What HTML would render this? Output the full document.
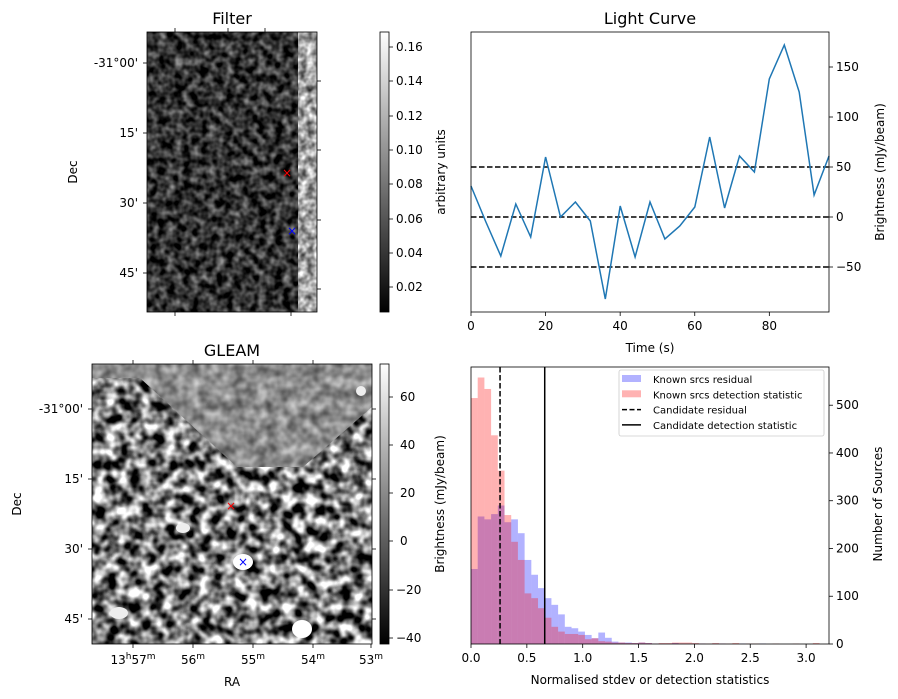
<!DOCTYPE html>
<html><head><meta charset="utf-8"><style>
html,body{margin:0;padding:0;background:#fff;}
svg{display:block;font-family:"DejaVu Sans","Liberation Sans",sans-serif;}
text{fill:#000;}
filter{color-interpolation-filters:sRGB;}
</style></head><body>
<svg id="fig" width="898" height="699" viewBox="0 0 898 699" xmlns="http://www.w3.org/2000/svg">
<defs>
<filter id="noiseF" x="0" y="0" width="100%" height="100%" color-interpolation-filters="sRGB">
<feTurbulence type="fractalNoise" baseFrequency="0.12" numOctaves="2" seed="3"/>
<feColorMatrix type="matrix" values="1 0 0 0 0  1 0 0 0 0  1 0 0 0 0  0 0 0 0 1"/>
<feComponentTransfer><feFuncR type="linear" slope="1.0" intercept="-0.3"/><feFuncG type="linear" slope="1.0" intercept="-0.3"/><feFuncB type="linear" slope="1.0" intercept="-0.3"/></feComponentTransfer>
</filter>
<filter id="noiseS" x="0" y="0" width="100%" height="100%" color-interpolation-filters="sRGB">
<feTurbulence type="fractalNoise" baseFrequency="0.14" numOctaves="2" seed="9"/>
<feColorMatrix type="matrix" values="1 0 0 0 0  1 0 0 0 0  1 0 0 0 0  0 0 0 0 1"/>
<feComponentTransfer><feFuncR type="linear" slope="1.2" intercept="0.05"/><feFuncG type="linear" slope="1.2" intercept="0.05"/><feFuncB type="linear" slope="1.2" intercept="0.05"/></feComponentTransfer>
</filter>
<filter id="noiseB" x="0" y="0" width="100%" height="100%" color-interpolation-filters="sRGB">
<feTurbulence type="fractalNoise" baseFrequency="0.085" numOctaves="2" seed="7"/>
<feColorMatrix type="matrix" values="1 0 0 0 0  1 0 0 0 0  1 0 0 0 0  0 0 0 0 1"/>
<feComponentTransfer><feFuncR type="linear" slope="2.4" intercept="-0.72"/><feFuncG type="linear" slope="2.4" intercept="-0.72"/><feFuncB type="linear" slope="2.4" intercept="-0.72"/></feComponentTransfer>
</filter>
<filter id="noiseC" x="0" y="0" width="100%" height="100%" color-interpolation-filters="sRGB">
<feTurbulence type="fractalNoise" baseFrequency="0.09" numOctaves="2" seed="11"/>
<feColorMatrix type="matrix" values="1 0 0 0 0  1 0 0 0 0  1 0 0 0 0  0 0 0 0 1"/>
<feComponentTransfer><feFuncR type="linear" slope="0.7" intercept="0.2"/><feFuncG type="linear" slope="0.7" intercept="0.2"/><feFuncB type="linear" slope="0.7" intercept="0.2"/></feComponentTransfer>
</filter>
<linearGradient id="cbar" x1="0" y1="1" x2="0" y2="0"><stop offset="0" stop-color="#000"/><stop offset="1" stop-color="#fff"/></linearGradient>
<clipPath id="gclip"><rect x="92" y="364" width="280" height="280"/></clipPath>
<clipPath id="polyclip"><polygon points="92,364 372,364 372,407 303,467 237,467 140,378 92,378"/></clipPath>
<clipPath id="fclip"><rect x="147" y="32" width="170" height="280"/></clipPath>
</defs>

<g>
<text x="232" y="24" font-size="16" text-anchor="middle">Filter</text>
<g clip-path="url(#fclip)">
<rect x="147" y="32" width="170" height="280" fill="#222" filter="url(#noiseF)"/>
<rect x="298" y="32" width="19" height="280" fill="#aaa" filter="url(#noiseS)"/>
</g>
<rect x="147" y="32" width="170" height="280" fill="none" stroke="#000" stroke-width="0.8"/>
<text x="287" y="177" font-size="12" text-anchor="middle" style="fill:red">×</text>
<text x="292" y="235" font-size="12" text-anchor="middle" style="fill:blue">×</text>
<g font-size="12" text-anchor="end">
<text x="138" y="67">-31°00'</text><text x="138" y="137">15'</text><text x="138" y="207">30'</text><text x="138" y="277">45'</text>
</g>
<g stroke="#000" stroke-width="0.8">
<line x1="143" y1="63" x2="147" y2="63"/><line x1="143" y1="133" x2="147" y2="133"/><line x1="143" y1="203" x2="147" y2="203"/><line x1="143" y1="273" x2="147" y2="273"/>
<line x1="317" y1="81" x2="321" y2="81"/><line x1="317" y1="150" x2="321" y2="150"/><line x1="317" y1="220" x2="321" y2="220"/><line x1="317" y1="289" x2="321" y2="289"/>
<line x1="175" y1="312" x2="175" y2="316"/><line x1="291" y1="312" x2="291" y2="316"/>
<line x1="175" y1="28" x2="175" y2="32"/><line x1="228" y1="28" x2="228" y2="32"/><line x1="265" y1="28" x2="265" y2="32"/>
</g>
<text transform="translate(77,172) rotate(-90)" font-size="12" text-anchor="middle">Dec</text>
<rect x="380" y="32" width="9" height="280" fill="url(#cbar)" stroke="#000" stroke-width="0.8"/>
<g font-size="12">
<text x="396" y="51">0.16</text><text x="396" y="85">0.14</text><text x="396" y="120">0.12</text><text x="396" y="154">0.10</text><text x="396" y="188">0.08</text><text x="396" y="223">0.06</text><text x="396" y="257">0.04</text><text x="396" y="291">0.02</text>
</g>
<g stroke="#000" stroke-width="0.8">
<line x1="389" y1="47" x2="393" y2="47"/><line x1="389" y1="81" x2="393" y2="81"/><line x1="389" y1="116" x2="393" y2="116"/><line x1="389" y1="150" x2="393" y2="150"/><line x1="389" y1="184" x2="393" y2="184"/><line x1="389" y1="219" x2="393" y2="219"/><line x1="389" y1="253" x2="393" y2="253"/><line x1="389" y1="287" x2="393" y2="287"/>
</g>
<text transform="translate(445,172) rotate(-90)" font-size="12" text-anchor="middle">arbitrary units</text>
</g>

<g>
<text x="232" y="356" font-size="16" text-anchor="middle">GLEAM</text>
<g clip-path="url(#gclip)">
<rect x="92" y="364" width="280" height="280" fill="#777" filter="url(#noiseB)"/>
<g clip-path="url(#polyclip)"><rect x="92" y="364" width="280" height="104" fill="#888" filter="url(#noiseC)"/></g>
<ellipse cx="302" cy="629" rx="10" ry="9" fill="#fff"/>
<ellipse cx="243" cy="562" rx="10" ry="8" fill="#fff"/>
<ellipse cx="119" cy="613" rx="9" ry="6" fill="#eee"/>
<ellipse cx="183" cy="528" rx="7" ry="5" fill="#eee"/>
<ellipse cx="361" cy="391" rx="5" ry="5" fill="#eee"/>
</g>
<rect x="92" y="364" width="280" height="280" fill="none" stroke="#000" stroke-width="0.8"/>
<text x="231" y="510" font-size="12" text-anchor="middle" style="fill:red">×</text>
<text x="243" y="566" font-size="12" text-anchor="middle" style="fill:blue">×</text>
<g font-size="12" text-anchor="end">
<text x="83" y="413">-31°00'</text><text x="83" y="483">15'</text><text x="83" y="553">30'</text><text x="83" y="623">45'</text>
</g>
<g font-size="12" text-anchor="middle">
<text x="133" y="664">13<tspan font-size="9" dy="-5">h</tspan><tspan dy="5">57</tspan><tspan font-size="9" dy="-5">m</tspan></text>
<text x="193" y="664">56<tspan font-size="9" dy="-5">m</tspan></text>
<text x="253" y="664">55<tspan font-size="9" dy="-5">m</tspan></text>
<text x="313" y="664">54<tspan font-size="9" dy="-5">m</tspan></text>
<text x="371" y="664">53<tspan font-size="9" dy="-5">m</tspan></text>
</g>
<g stroke="#000" stroke-width="0.8">
<line x1="88" y1="409" x2="92" y2="409"/><line x1="88" y1="479" x2="92" y2="479"/><line x1="88" y1="549" x2="92" y2="549"/><line x1="88" y1="619" x2="92" y2="619"/>
<line x1="372" y1="409" x2="376" y2="409"/><line x1="372" y1="479" x2="376" y2="479"/><line x1="372" y1="549" x2="376" y2="549"/><line x1="372" y1="619" x2="376" y2="619"/>
<line x1="133" y1="644" x2="133" y2="648"/><line x1="193" y1="644" x2="193" y2="648"/><line x1="253" y1="644" x2="253" y2="648"/><line x1="313" y1="644" x2="313" y2="648"/><line x1="371" y1="644" x2="371" y2="648"/>
<line x1="133" y1="360" x2="133" y2="364"/><line x1="193" y1="360" x2="193" y2="364"/><line x1="253" y1="360" x2="253" y2="364"/><line x1="313" y1="360" x2="313" y2="364"/>
</g>
<text transform="translate(21,504) rotate(-90)" font-size="12" text-anchor="middle">Dec</text>
<text x="232" y="686" font-size="12" text-anchor="middle">RA</text>
<rect x="380" y="364" width="9" height="280" fill="url(#cbar)" stroke="#000" stroke-width="0.8"/>
<g font-size="12">
<text x="400" y="401">60</text><text x="400" y="449">40</text><text x="400" y="497">20</text><text x="400" y="545">0</text><text x="396" y="594">−20</text><text x="396" y="642">−40</text>
</g>
<g stroke="#000" stroke-width="0.8">
<line x1="389" y1="397" x2="393" y2="397"/><line x1="389" y1="445" x2="393" y2="445"/><line x1="389" y1="493" x2="393" y2="493"/><line x1="389" y1="541" x2="393" y2="541"/><line x1="389" y1="590" x2="393" y2="590"/><line x1="389" y1="638" x2="393" y2="638"/>
</g>
<text transform="translate(444,504) rotate(-90)" font-size="12" text-anchor="middle">Brightness (mJy/beam)</text>
</g>

<g id="lc">
<text x="650" y="24" font-size="16" text-anchor="middle">Light Curve</text>
<text x="650" y="352" font-size="12" text-anchor="middle">Time (s)</text>
<text transform="translate(884,172) rotate(-90)" font-size="12" text-anchor="middle">Brightness (mJy/beam)</text>
</g>

<g id="hist">
<text x="650" y="684" font-size="12" text-anchor="middle">Normalised stdev or detection statistics</text>
<text transform="translate(882,504) rotate(-90)" font-size="12" text-anchor="middle">Number of Sources</text>
</g>
</svg>
<script>
var NS = "http://www.w3.org/2000/svg";
// Light curve data
var lcTimes = [0,4,8,12,16,20,24,28,32,36,40,44,48,52,56,60,64,68,72,76,80,84,88,92,96];
var lcValues = [31,-5,-39,13,-20,60,0,15,-4,-82,11,-40,15,-22,-9,10,80,9,61,45,138,172,125,22,61];
var lcThresholds = [-50,0,50];
var lcXTicks = [0,20,40,60,80];
var lcYTicks = [-50,0,50,100,150];
// Histogram data
var binWidth = 0.06;
var knownResidual = [157,267,261,272,290,255,261,232,176,145,117,96,82,62,36,33,26,19,12,24,13,5,3,3,2,3,2,1,1,1,2,1,1,1,1,0,1,1,0,0,1,0,0,1,0];
var knownDetection = [515,558,534,437,363,270,214,176,106,96,75,55,36,26,21,21,19,10,12,6,5,3,3,2,2,3,2,1,2,2,3,3,3,2,1,1,2,1,1,2,0,1,1,0,0,1,0,0,1,0,0,2];
var candidateResidual = [0.26];
var candidateDetection = [0.66];
var histXTicks = [0.0,0.5,1.0,1.5,2.0,2.5,3.0];
var histYTicks = [0,100,200,300,400,500];

function mk(tag, attrs, parent){var e=document.createElementNS(NS,tag);for(var k in attrs)e.setAttribute(k,attrs[k]);parent.appendChild(e);return e;}

var LX0=471,LX1=829,LY0=32,LY1=312;
function lx(t){return LX0+(t-0)/(96-0)*(LX1-LX0);}
function ly(v){return LY1-(v-(-95))/(185-(-95))*(LY1-LY0);}
var lc=document.getElementById('lc');
lcThresholds.forEach(function(v){
  var l=mk('line',{x1:LX0,x2:LX1,y1:ly(v),y2:ly(v),stroke:'#000','stroke-width':1.5,'stroke-dasharray':'5.5,2.5'},lc);
  
  
});
var pts=lcTimes.map(function(t,i){return lx(t).toFixed(1)+','+ly(lcValues[i]).toFixed(1);}).join(' ');
var pl=mk('polyline',{points:pts,fill:'none',stroke:'#1f77b4','stroke-width':1.5},lc);


var fr=mk('rect',{x:LX0,y:LY0,width:LX1-LX0,height:LY1-LY0,fill:'none',stroke:'#000','stroke-width':0.8},lc);


lcXTicks.forEach(function(t){
  mk('line',{x1:lx(t),x2:lx(t),y1:LY1,y2:LY1+4,stroke:'#000','stroke-width':0.8},lc);
  var tx=mk('text',{x:lx(t),y:LY1+18,'font-size':12,'text-anchor':'middle'},lc);tx.textContent=t;
  
  
});
lcYTicks.forEach(function(v){
  mk('line',{x1:LX1,x2:LX1+4,y1:ly(v),y2:ly(v),stroke:'#000','stroke-width':0.8},lc);
  var tx=mk('text',{x:LX1+7,y:ly(v)+4,'font-size':12},lc);tx.textContent=(v<0?'\u2212'+(-v):v);
  
  
});

var HX0=471,HX1=829,HY0=367,HY1=644;
function hx(v){return HX0+(v-0)/(3.205-0)*(HX1-HX0);}
function hy(c){return HY1-c/580*(HY1-HY0);}
var hg=document.getElementById('hist');
function drawBars(arr,color,name){
  arr.forEach(function(c,i){
    if(c<=0)return;
    var r=mk('rect',{x:hx(i*binWidth),y:hy(c),width:hx((i+1)*binWidth)-hx(i*binWidth),height:HY1-hy(c),fill:color,'fill-opacity':0.3},hg);
    
    
  });
}
drawBars(knownResidual,'#0000ff','residual-bar');
drawBars(knownDetection,'#ff0000','detection-bar');
candidateResidual.forEach(function(v){
  var l=mk('line',{x1:hx(v),x2:hx(v),y1:HY0,y2:HY1,stroke:'#000','stroke-width':1.5,'stroke-dasharray':'5.5,2.5'},hg);
  
  
});
candidateDetection.forEach(function(v){
  var l=mk('line',{x1:hx(v),x2:hx(v),y1:HY0,y2:HY1,stroke:'#000','stroke-width':1.5},hg);
  
  
});
var hf=mk('rect',{x:HX0,y:HY0,width:HX1-HX0,height:HY1-HY0,fill:'none',stroke:'#000','stroke-width':0.8},hg);


histXTicks.forEach(function(t){
  mk('line',{x1:hx(t),x2:hx(t),y1:HY1,y2:HY1+4,stroke:'#000','stroke-width':0.8},hg);
  var tx=mk('text',{x:hx(t),y:HY1+18,'font-size':12,'text-anchor':'middle'},hg);tx.textContent=t.toFixed(1);
  
  
});
histYTicks.forEach(function(c){
  mk('line',{x1:HX1,x2:HX1+4,y1:hy(c),y2:hy(c),stroke:'#000','stroke-width':0.8},hg);
  var tx=mk('text',{x:HX1+7,y:hy(c)+4,'font-size':12},hg);tx.textContent=c;
  
  
});
var lg=mk('g',{},hg);


mk('rect',{x:619,y:370,width:205,height:66,rx:2,fill:'#fff','fill-opacity':0.8,stroke:'#ccc','stroke-width':0.8},lg);
var entries=[['Known srcs residual','patch','#0000ff'],['Known srcs detection statistic','patch','#ff0000'],['Candidate residual','dash',''],['Candidate detection statistic','solid','']];
entries.forEach(function(e,i){
  var y=379+i*15.3;
  var g=mk('g',{},lg);
  
  
  if(e[1]==='patch')mk('rect',{x:622,y:y-4,width:19,height:7,fill:e[2],'fill-opacity':0.3},g);
  else mk('line',{x1:622,x2:641,y1:y,y2:y,stroke:'#000','stroke-width':1.5,'stroke-dasharray':e[1]==='dash'?'5,2.5':'none'},g);
  var t=mk('text',{x:653,y:y+4,'font-size':10},g);t.textContent=e[0];
});
</script>
</body></html>
